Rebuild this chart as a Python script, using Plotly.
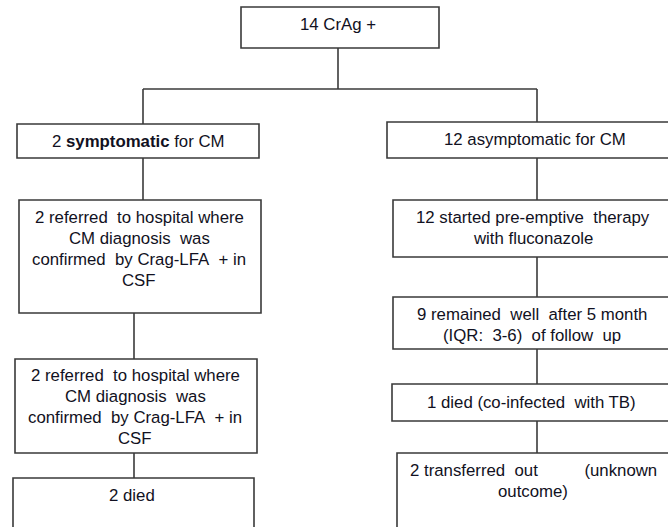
import plotly.graph_objects as go

NB = "\u00a0"

# ---- Data: flowchart node labels ----
top_label = "14 CrAg +"
branch_labels = ["2 <b>symptomatic</b> for CM", "12 asymptomatic for CM"]
left_steps = [
    "2 referred" + NB + " to hospital where<br>CM diagnosis" + NB + " was<br>confirmed" + NB + " by Crag-LFA" + NB + " + in<br>CSF",
    "2 referred" + NB + " to hospital where<br>CM diagnosis" + NB + " was<br>confirmed" + NB + " by Crag-LFA" + NB + " + in<br>CSF",
    "2 died",
]
right_steps = [
    "12 started pre-emptive" + NB + " therapy<br>with fluconazole",
    "9 remained" + NB + " well" + NB + " after 5 month<br>(IQR:" + NB + " 3-6)" + NB + " of follow" + NB + " up",
    "1 died (co-infected" + NB + " with TB)",
    "2 transferred" + NB + " out" + NB * 10 + "(unknown<br>outcome)",
]

# ---- Layout geometry (page pixels, y downward) ----
W, H = 668, 527
boxes = [  # x0, y0, x1, y1
    (241, 7, 439, 48),     # top
    (17, 124, 259, 158),   # symptomatic
    (387, 122, 680, 158),  # asymptomatic
    (19, 200, 261, 313),   # left step 1
    (15, 359, 257, 453),   # left step 2
    (13, 478, 254, 545),   # left step 3
    (393, 200, 680, 257),  # right step 1
    (393, 297, 680, 349),  # right step 2
    (392, 384, 680, 421),  # right step 3
    (397, 453, 680, 545),  # right step 4
]
connectors = [  # x0, y0, x1, y1
    (338, 48, 338, 89),
    (143, 89, 537, 89),
    (143, 89, 143, 124),
    (537, 89, 537, 122),
    (143, 158, 143, 200),
    (134, 313, 134, 359),
    (134, 453, 134, 478),
    (537, 158, 537, 200),
    (537, 257, 537, 297),
    (537, 349, 537, 384),
    (537, 421, 537, 453),
]
label_pos = [  # x, y centre of text block
    (338, 24),
    (138, 141), (535, 139),
    (139, 249), (135, 407), (132, 495),
    (533, 228), (532, 325), (531, 402), (533, 481),
]
LINE_STEP = 21

labels = [top_label] + branch_labels + left_steps + right_steps

LINE = "#3a3a3a"
TEXT = "#111122"
FONT = "Arial, Liberation Sans, sans-serif"

fig = go.Figure()
shapes = []
for (x0, y0, x1, y1) in boxes:
    shapes.append(dict(type="rect", xref="x", yref="y", x0=x0, y0=y0, x1=x1, y1=y1,
                       line=dict(color=LINE, width=1.6), fillcolor="rgba(0,0,0,0)", layer="below"))
for (x0, y0, x1, y1) in connectors:
    shapes.append(dict(type="line", xref="x", yref="y", x0=x0, y0=y0, x1=x1, y1=y1,
                       line=dict(color=LINE, width=1.6)))

annotations = []
for lab, (x, y) in zip(labels, label_pos):
    lines = lab.split("<br>")
    n = len(lines)
    for i, ln in enumerate(lines):
        annotations.append(dict(x=x, y=y + (i - (n - 1) / 2) * LINE_STEP, xref="x", yref="y",
                                text=ln, showarrow=False,
                                xanchor="center", yanchor="middle", align="center",
                                font=dict(family=FONT, size=16.8, color=TEXT)))

fig.update_layout(
    width=W, height=H, autosize=False,
    margin=dict(l=0, r=0, t=0, b=0),
    paper_bgcolor="white", plot_bgcolor="white",
    shapes=shapes, annotations=annotations,
    xaxis=dict(range=[0, W], visible=False, fixedrange=True),
    yaxis=dict(range=[H, 0], visible=False, fixedrange=True),
    showlegend=False,
)
fig.write_html("out.html", config={"displayModeBar": False, "staticPlot": True},
               post_script="document.body.style.margin='0';document.body.style.overflow='hidden';")
